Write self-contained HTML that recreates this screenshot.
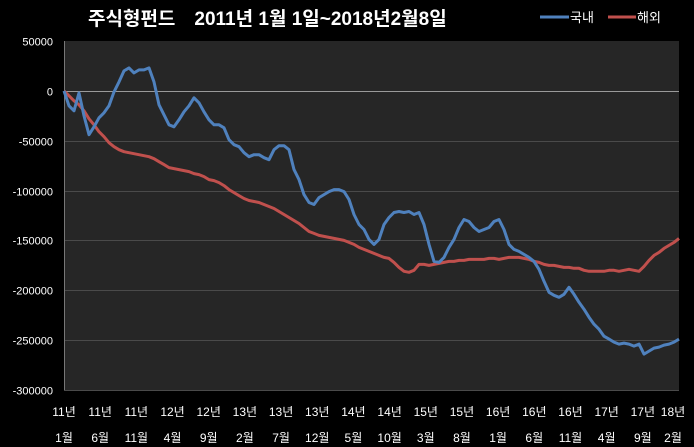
<!DOCTYPE html>
<html><head><meta charset="utf-8"><style>
body{margin:0;background:#000;width:694px;height:447px;overflow:hidden}
svg{display:block;font-family:"Liberation Sans","Noto Sans CJK KR",sans-serif}
</style></head><body>
<svg id="c" width="694" height="447">
<text x="88" y="25" fill="#fff" font-size="19" font-weight="bold">주식형펀드　2011년 1월 1일~2018년2월8일</text>
<g>
<line x1="540" y1="17" x2="569" y2="17" stroke="#4f81bd" stroke-width="3"/>
<text x="570" y="22" fill="#fff" font-size="13">국내</text>
<line x1="608" y1="17" x2="636" y2="17" stroke="#c0504d" stroke-width="3"/>
<text x="637" y="22" fill="#fff" font-size="13">해외</text>
</g>
<rect x="64" y="41" width="615" height="349" fill="#262626"/>
<g id="grid"></g><g id="yl"></g><g id="xl"></g><g id="series"></g>
</svg>
<script>
const yTicks=[50000,0,-50000,-100000,-150000,-200000,-250000,-300000];
const xYears=["11년","11년","11년","12년","12년","13년","13년","13년","14년","14년","15년","15년","16년","16년","16년","17년","17년","18년"];
const xMonths=["1월","6월","11월","4월","9월","2월","7월","12월","5월","10월","3월","8월","1월","6월","11월","4월","9월","2월"];
const totalMonths=85;
const domestic=[0,-15,-20,-2,-25,-44,-36,-27,-22,-15,-1,9,20,23,18,21,21,23,9,-14,-24,-34,-36,-29,-21,-15,-7,-12,-21,-29,-34,-34,-37,-49,-54,-56,-62,-66,-64,-64,-67,-69,-59,-55,-55,-59,-79,-89,-104,-112,-114,-107,-104,-101,-99,-99,-101,-109,-124,-134,-139,-149,-154,-149,-134,-127,-122,-121,-122,-121,-124,-122,-134,-154,-171,-172,-167,-157,-149,-137,-129,-131,-137,-141,-139,-137,-131,-129,-139,-154,-159,-161,-164,-167,-171,-179,-191,-202,-205,-207,-204,-197,-204,-212,-219,-227,-234,-239,-246,-249,-252,-254,-253,-254,-256,-254,-264,-261,-258,-257,-255,-254,-252,-249];
const overseas=[0,-5,-10,-14,-20,-28,-34,-41,-46,-52,-56,-59,-61,-62,-63,-64,-65,-66,-68,-71,-74,-77,-78,-79,-80,-81,-83,-84,-86,-89,-90,-92,-95,-99,-102,-105,-108,-110,-111,-112,-114,-116,-118,-121,-124,-127,-130,-133,-137,-141,-143,-145,-146,-147,-148,-149,-150,-152,-154,-157,-159,-161,-163,-165,-167,-168,-172,-177,-181,-182,-180,-174,-174,-175,-174,-173,-172,-171,-171,-170,-170,-169,-169,-169,-169,-168,-168,-169,-168,-167,-167,-167,-168,-169,-171,-172,-174,-175,-175,-176,-177,-177,-178,-178,-180,-181,-181,-181,-181,-180,-180,-181,-180,-179,-180,-181,-176,-170,-165,-162,-158,-155,-152,-148];
const NS="http://www.w3.org/2000/svg";
const X0=64,X1=679,Y0=41,Y1=390,VMAX=50000,VMIN=-300000;
const yS=v=>Y0+(VMAX-v)/(VMAX-VMIN)*(Y1-Y0);
const xS=m=>X0+m/totalMonths*(X1-X0);
function mk(t,a,p){const e=document.createElementNS(NS,t);for(const k in a)e.setAttribute(k,a[k]);p.appendChild(e);return e;}
const grid=document.getElementById('grid'),yl=document.getElementById('yl'),xl=document.getElementById('xl'),ser=document.getElementById('series');
yTicks.forEach(v=>{
  const y=Math.round(yS(v))+0.5;
  if(v!==VMAX){const l=mk('line',{x1:X0,x2:X1,y1:y,y2:y,stroke:v===0?'#9a9a9a':'#4a4a4a','stroke-width':1},grid);
  
  }
  const t=mk('text',{x:53,y:y+4,fill:'#fff','font-size':11,'text-anchor':'end'},yl);t.textContent=v;
  
  
});
mk('line',{x1:X0+0.5,x2:X0+0.5,y1:Y0,y2:Y1,stroke:'#777'},grid);
xYears.forEach((yr,i)=>{
  const x=xS(i*5)+(i===xYears.length-1?-6:0);
  const a=mk('text',{x:x,y:416,fill:'#fff','font-size':12,'text-anchor':'middle'},xl);a.textContent=yr;
  
  
  const b=mk('text',{x:x,y:442,fill:'#fff','font-size':12,'text-anchor':'middle'},xl);b.textContent=xMonths[i];
  
  
});
function draw(arr,color,name){
  const n=arr.length;
  const pts=arr.map((v,i)=>xS(i/(n-1)*totalMonths).toFixed(1)+','+yS(v*1000).toFixed(1)).join(' ');
  const p=mk('polyline',{points:pts,fill:'none',stroke:color,'stroke-width':3,'stroke-linejoin':'round'},ser);
  
  
}
draw(overseas,'#c0504d','overseas-line');
draw(domestic,'#4f81bd','domestic-line');
</script>
</body></html>
